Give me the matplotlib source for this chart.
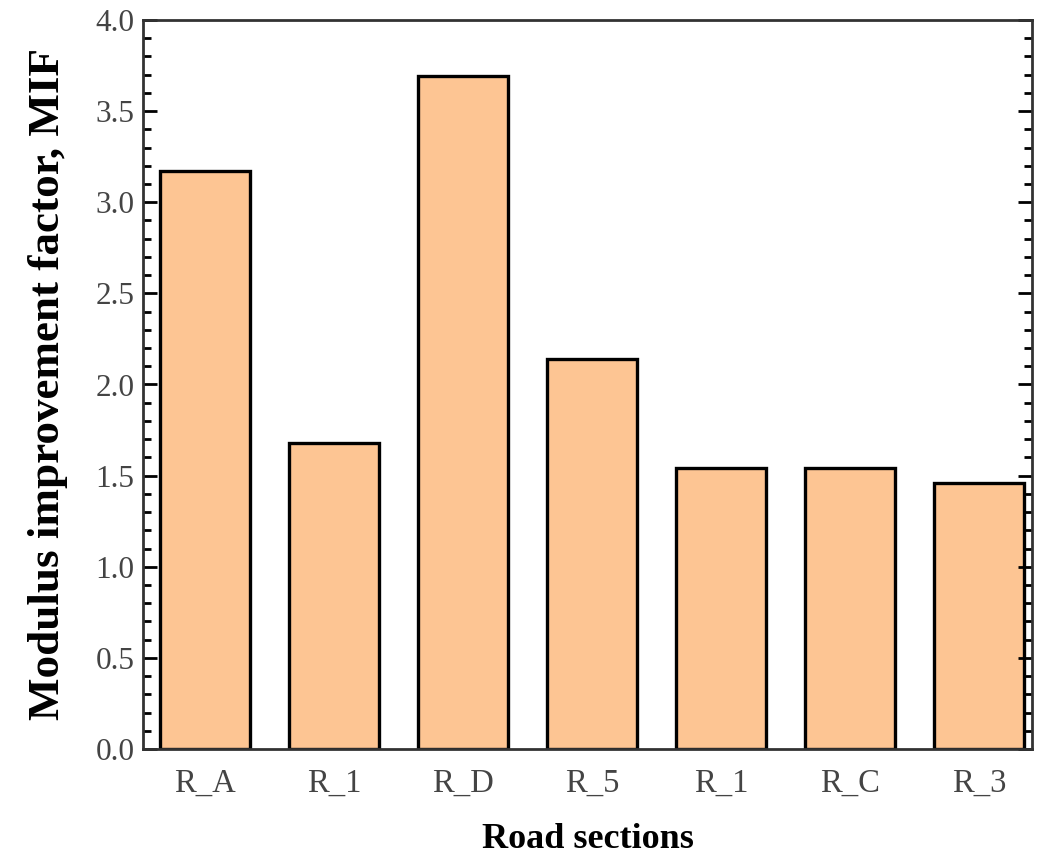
import matplotlib
matplotlib.use("Agg")
import matplotlib.pyplot as plt
from matplotlib.ticker import MultipleLocator

categories = ["R_A", "R_1", "R_D", "R_5", "R_1", "R_C", "R_3"]
mif_values = [3.17, 1.68, 3.69, 2.14, 1.54, 1.54, 1.46]

plt.rcParams['font.family'] = ['Liberation Serif', 'DejaVu Serif']

fig = plt.figure(figsize=(10.48, 8.55), dpi=100)
ax = fig.add_axes([143/1048, 1 - 749/855, (1032-143)/1048, (749-20)/855])

x = list(range(len(categories)))
ax.bar(x, mif_values, width=0.7, color="#FDC593", edgecolor="black", linewidth=2.4)

ax.set_xlim(-0.48, 6.41)
ax.set_ylim(0, 4.0)
ax.set_xticks(x)
ax.set_xticklabels(categories)
ax.yaxis.set_major_locator(MultipleLocator(0.5))
ax.yaxis.set_minor_locator(MultipleLocator(0.1))
ax.yaxis.set_major_formatter(matplotlib.ticker.FormatStrFormatter('%.1f'))

ax.tick_params(axis='y', which='major', direction='in', length=10, width=2,
               left=True, right=True, labelsize=22.5, labelcolor='#444444', pad=6)
ax.tick_params(axis='y', which='minor', direction='in', length=6, width=2,
               left=True, right=True)
ax.tick_params(axis='x', which='both', length=0, labelsize=23.5, labelcolor='#444444', pad=14)

for s in ax.spines.values():
    s.set_linewidth(2)
    s.set_color('#333333')

ax.set_ylabel("Modulus improvement factor, MIF", fontsize=32.5, fontweight='bold', labelpad=20)
ax.set_xlabel("Road sections", fontsize=26, fontweight='bold', labelpad=17)

fig.savefig("out.png", dpi=100)
